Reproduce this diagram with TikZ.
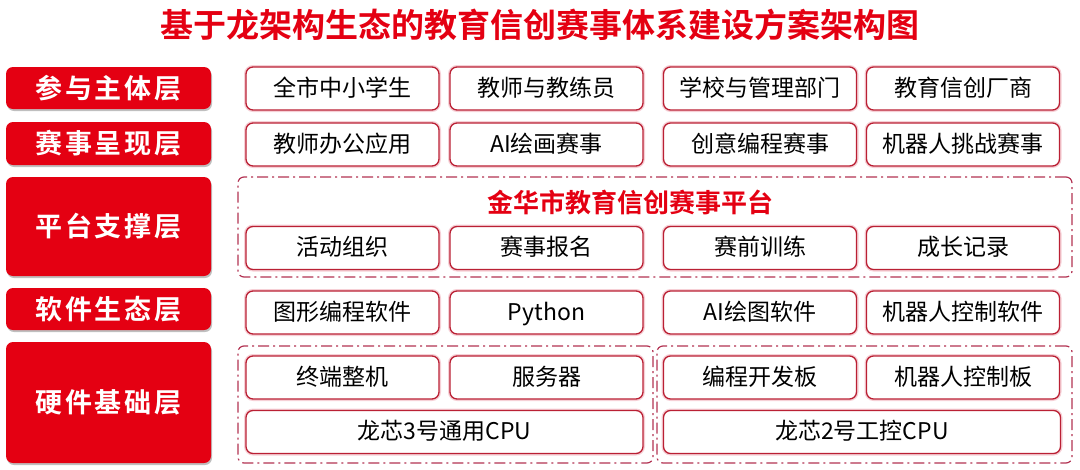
\documentclass[tikz,border=0pt]{standalone}
\usepackage{fontspec}
\usepackage{tikz}
\usetikzlibrary{shapes,calc,positioning,shadows}
\usepackage{xcolor}
\newfontfamily\cjk{Noto Sans CJK SC}
\newfontfamily\cjkbf{Noto Sans CJK SC Bold}
\newfontfamily\cjkbfsp[LetterSpace=10]{Noto Sans CJK SC Bold}
\definecolor{layerred}{RGB}{228,0,18}
\definecolor{itemred}{RGB}{186,32,52}
\definecolor{itemglow}{RGB}{246,208,214}
\definecolor{groupred}{RGB}{178,50,82}

\begin{document}
\begin{tikzpicture}[x=1pt,y=-1pt,
	  every node/.style={align=center,inner sep=0pt},
	  title/.style={text=layerred,font=\cjkbf\fontsize{33}{36}\selectfont},
	  subtitle/.style={text=layerred,font=\cjkbf\fontsize{26}{28}\selectfont},
	  layer/.style={fill=layerred,rounded corners=7pt,minimum width=205pt,text=white,
	    font=\cjkbfsp\fontsize{27}{30}\selectfont,
	    drop shadow={shadow xshift=1pt,shadow yshift=-2pt,opacity=.25,fill=black}},
	  item/.style={draw=itemred,line width=1.3pt,rounded corners=7pt,fill=white,
	    preaction={draw=itemglow,line width=4pt},text height=19pt,text depth=4pt,
	    minimum width=193pt,minimum height=43pt,font=\cjk\fontsize{23}{26}\selectfont},
	  wideitem/.style={item,minimum width=397pt},
	  group/.style={draw=groupred,line width=1.2pt,rounded corners=6pt,
	    dash pattern=on 11pt off 4pt on 2pt off 4pt}]

	  \useasboundingbox (0,0) rectangle (1080,469);

	  \node[title] (title) at (540,25) {基于龙架构生态的教育信创赛事体系建设方案架构图};

	  % layer labels on the left
	  \node[layer,minimum height=42pt] (people) at (108.5,88) {参与主体层};
	  \node[layer,minimum height=43pt] (show) at (108.5,143.5) {赛事呈现层};
	  \node[layer,minimum height=99pt] (platform) at (108.5,226.5) {平台支撑层};
	  \node[layer,minimum height=42pt] (software) at (108.5,309) {软件生态层};
	  \node[layer,minimum height=121pt] (hardware) at (108.5,402.5) {硬件基础层};

	  % dashed groups
	  \node[group,minimum width=834pt,minimum height=100pt] (platformbox) at (655,227) {};
	  \node[group,minimum width=415pt,minimum height=117pt] (generalbox) at (445.5,404.5) {};
	  \node[group,minimum width=415pt,minimum height=117pt] (controlbox) at (864.5,404.5) {};

	  % row 1
	  \node[item] (students) at (342.5,88.5) {全市中小学生};
	  \node[item] (teachers) at (546.5,88.5) {教师与教练员};
	  \node[item] (schools) at (760,88.5) {学校与管理部门};
	  \node[item] (vendors) at (963,88.5) {教育信创厂商};

	  % row 2
	  \node[item] (office) at (342.5,144.5) {教师办公应用};
	  \node[item] (aipaint) at (546.5,144.5) {AI绘画赛事};
	  \node[item] (coding) at (760,144.5) {创意编程赛事};
	  \node[item] (robot) at (963,144.5) {机器人挑战赛事};

	  % platform
	  \node[subtitle] (platformname) at (630,202) {金华市教育信创赛事平台};
	  \node[item] (organize) at (342.5,248) {活动组织};
	  \node[item] (signup) at (546.5,248) {赛事报名};
	  \node[item] (training) at (760,248) {赛前训练};
	  \node[item] (growth) at (963,248) {成长记录};

	  % software
	  \node[item] (graphic) at (342.5,312.5) {图形编程软件};
	  \node[item] (python) at (546.5,312.5) {Python};
	  \node[item] (aidraw) at (760,312.5) {AI绘图软件};
	  \node[item] (robotsoft) at (963,312.5) {机器人控制软件};

	  % hardware
	  \node[item] (terminal) at (342.5,377.5) {终端整机};
	  \node[item] (server) at (546.5,377.5) {服务器};
	  \node[item] (devboard) at (760,377.5) {编程开发板};
	  \node[item] (robotboard) at (963,377.5) {机器人控制板};
	  \node[wideitem] (cputhree) at (444.5,432) {龙芯3号通用CPU};
	  \node[wideitem] (cputwo) at (862,432) {龙芯2号工控CPU};

\end{tikzpicture}
\end{document}
